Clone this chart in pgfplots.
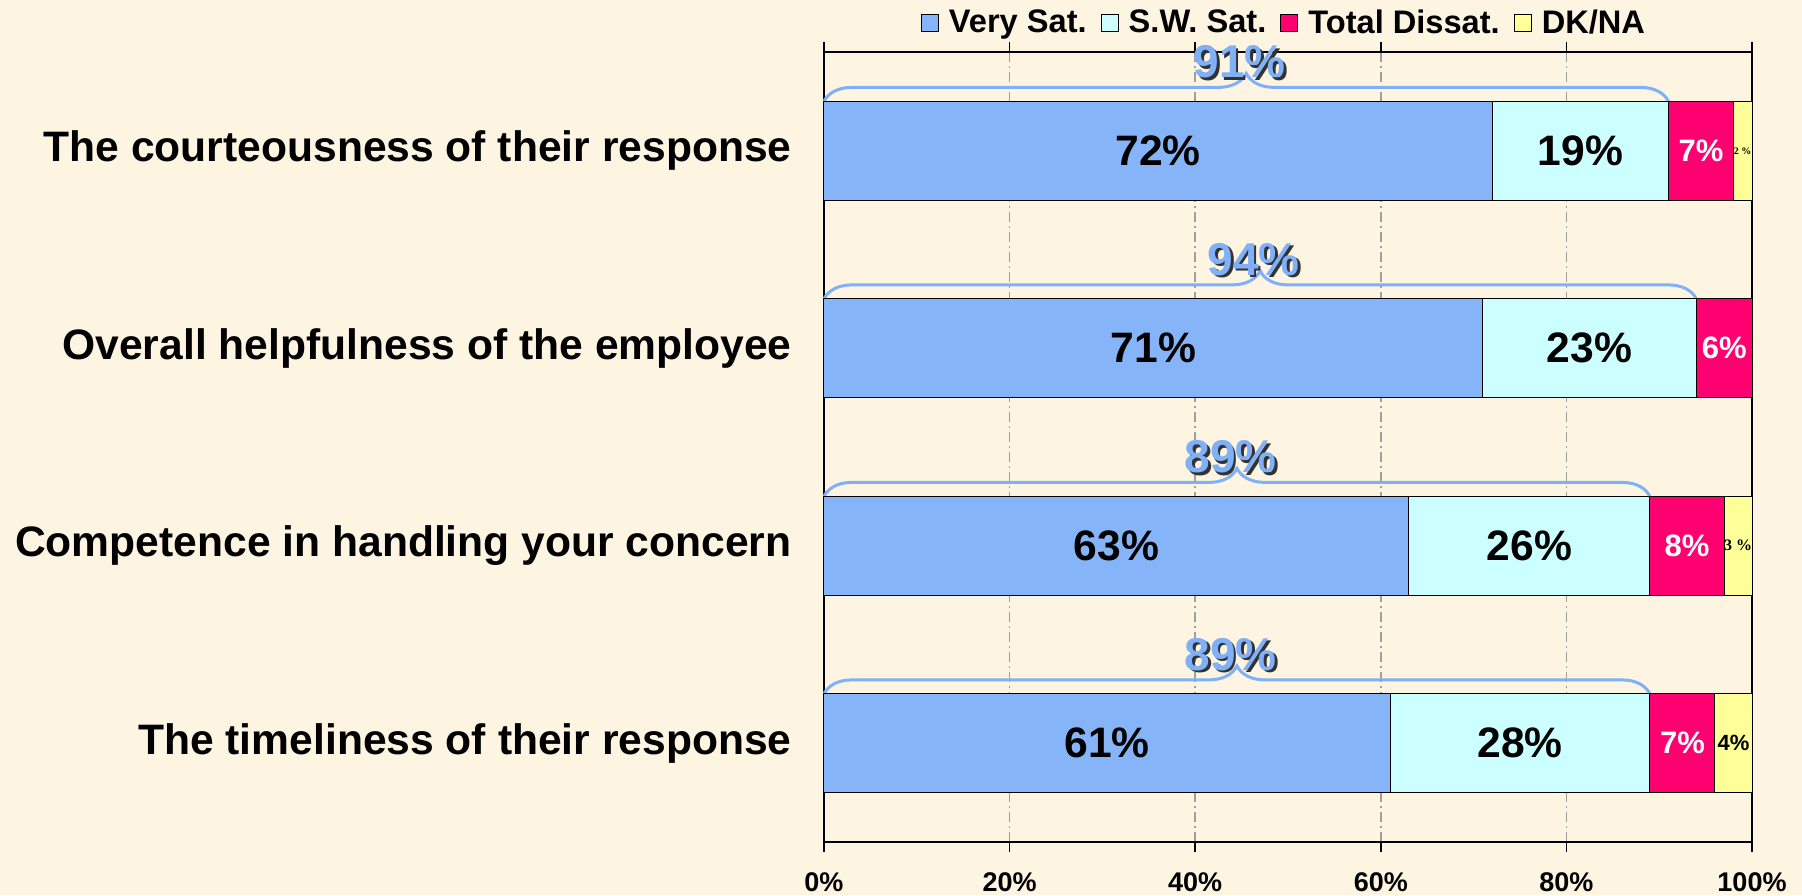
\documentclass[border=0pt]{standalone}
\usepackage{fontspec}
\setmainfont{Liberation Sans}
\newfontfamily\serifb{Liberation Serif}
\usepackage{pgfplots}
\pgfplotsset{compat=1.18}
\usetikzlibrary{decorations.pathreplacing}

\definecolor{verysat}{RGB}{133,181,248}
\definecolor{swsat}{RGB}{204,255,255}
\definecolor{dissat}{RGB}{255,0,112}
\definecolor{dkna}{RGB}{255,255,153}
\definecolor{bgc}{RGB}{253,245,225}
\definecolor{bracec}{RGB}{128,176,248}

\pgfplotsset{
  sq/.style={legend image code/.code={\draw[##1,draw=black,line width=0.5pt] (0pt,-4.25pt) rectangle (8.5pt,4.25pt);}},
}

\newcommand{\barlbl}{\fontsize{21.3}{25}\selectfont\bfseries}
\newcommand{\redlbl}{\fontsize{15.5}{18}\selectfont\bfseries}
\newcommand{\totlbl}{\fontsize{23}{27}\selectfont\bfseries}

% brace over satisfied share: category, total
\newcommand{\satbrace}[2]{%
  \draw[bracec, line width=1.5pt, decorate, decoration={brace, amplitude=14pt}]
    (axis cs:0,#1-0.25) -- (axis cs:#2,#1-0.25);
}
% total label with dark shadow
\newcommand{\tot}[2]{%
  \node[font=\totlbl, text=black!80, xshift=1.3pt, yshift=-1.3pt] at (#1) {#2\%};
  \node[font=\totlbl, text=bracec] at (#1) {#2\%};
}

\begin{document}
\begin{tikzpicture}
\fill[bgc] (-412pt,-26.5pt) rectangle (489pt,421pt);
\begin{axis}[
  at={(0,0)}, anchor=south west,
  scale only axis, width=464pt, height=395pt,
  xbar stacked, bar width=0.5,
  xmin=0, xmax=100, ymin=0.5, ymax=4.5, y dir=reverse,
  clip=false,
  axis line style={line width=1pt},
  xtick={0,20,40,60,80,100},
  xticklabels={0\%,20\%,40\%,60\%,80\%,100\%},
  xtick align=outside,
  major tick length=5pt,
  xtick style={line width=0.8pt, black},
  xticklabel style={font=\fontsize{13.5}{16}\selectfont\bfseries, inner sep=0pt, anchor=north, yshift=-10pt},
  ytick={1,2,3,4},
  yticklabels={The courteousness of their response,Overall helpfulness of the employee,Competence in handling your concern,The timeliness of their response},
  ytick style={draw=none},
  yticklabel style={font=\fontsize{21.3}{26}\selectfont\bfseries, inner sep=0pt, anchor=east, xshift=-16pt},
  xmajorgrids,
  grid style={gray!75, line width=0.8pt, dash pattern=on 5pt off 2pt on 1pt off 2pt},
  legend style={at={(0.5,1.037)}, anchor=center, draw=none, fill=none, legend columns=-1,
    font=\fontsize{16.3}{18}\selectfont\bfseries,
    nodes={inner xsep=5pt},
    /tikz/every even column/.append style={column sep=2pt}},
]
% order: courteousness, helpfulness, competence, timeliness
\addplot[fill=verysat, draw=black, line width=0.5pt, sq] coordinates {(72,1) (71,2) (63,3) (61,4)};
\addlegendentry{Very Sat.}
\addplot[fill=swsat, draw=black, line width=0.5pt, sq] coordinates {(19,1) (23,2) (26,3) (28,4)};
\addlegendentry{S.W. Sat.}
\addplot[fill=dissat, draw=black, line width=0.5pt, sq] coordinates {(7,1) (6,2) (8,3) (7,4)};
\addlegendentry{Total Dissat.}
\addplot[fill=dkna, draw=black, line width=0.5pt, sq] coordinates {(2,1) (0,2) (3,3) (4,4)};
\addlegendentry{DK/NA}

\satbrace{1}{91}
\satbrace{2}{94}
\satbrace{3}{89}
\satbrace{4}{89}

% label anchors
\coordinate (a1) at (axis cs:36,1);   \coordinate (b1) at (axis cs:81.5,1);
\coordinate (c1) at (axis cs:94.5,1); \coordinate (d1) at (axis cs:99,1);
\coordinate (a2) at (axis cs:35.5,2); \coordinate (b2) at (axis cs:82.5,2);
\coordinate (c2) at (axis cs:97,2);
\coordinate (a3) at (axis cs:31.5,3); \coordinate (b3) at (axis cs:76,3);
\coordinate (c3) at (axis cs:93,3);   \coordinate (d3) at (axis cs:98.5,3);
\coordinate (a4) at (axis cs:30.5,4); \coordinate (b4) at (axis cs:75,4);
\coordinate (c4) at (axis cs:92.5,4); \coordinate (d4) at (axis cs:98,4);
\coordinate (t1) at (axis cs:44.8,0.55);
\coordinate (t2) at (axis cs:46.3,1.55);
\coordinate (t3) at (axis cs:43.8,2.55);
\coordinate (t4) at (axis cs:43.8,3.55);
\end{axis}

\node[font=\barlbl] at (a1) {72\%};
\node[font=\barlbl] at (b1) {19\%};
\node[font=\redlbl, text=white] at (c1) {7\%};
\node[font=\serifb\bfseries\fontsize{5}{6}\selectfont] at (d1) {2 \%};

\node[font=\barlbl] at (a2) {71\%};
\node[font=\barlbl] at (b2) {23\%};
\node[font=\redlbl, text=white] at (c2) {6\%};

\node[font=\barlbl] at (a3) {63\%};
\node[font=\barlbl] at (b3) {26\%};
\node[font=\redlbl, text=white] at (c3) {8\%};
\node[font=\serifb\bfseries\fontsize{8}{9}\selectfont] at (d3) {3 \%};

\node[font=\barlbl] at (a4) {61\%};
\node[font=\barlbl] at (b4) {28\%};
\node[font=\redlbl, text=white] at (c4) {7\%};
\node[font=\fontsize{11}{13}\selectfont\bfseries] at (d4) {4\%};

\tot{t1}{91}
\tot{t2}{94}
\tot{t3}{89}
\tot{t4}{89}
\end{tikzpicture}
\end{document}
